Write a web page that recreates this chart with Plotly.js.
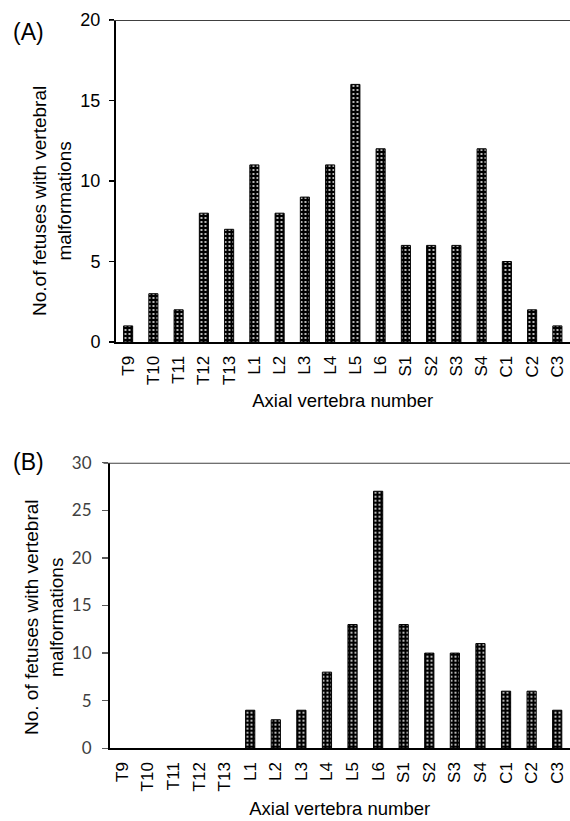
<!DOCTYPE html>
<html>
<head>
<meta charset="utf-8">
<script src="https://cdn.plot.ly/plotly-3.0.1.min.js"></script>
<style>
html,body{margin:0;padding:0;background:#fff;}
#chart{width:570px;height:821px;}
</style>
</head>
<body>
<div id="chart"></div>
<script>
const categories = ["T9","T10","T11","T12","T13","L1","L2","L3","L4","L5","L6","S1","S2","S3","S4","C1","C2","C3"];
const valuesA = [1,3,2,8,7,11,8,9,11,16,12,6,6,6,12,5,2,1];
const valuesB = [0,0,0,0,0,4,3,4,8,13,27,13,10,10,11,6,6,4];
const yTicksA = [0,5,10,15,20];
const yTicksB = [0,5,10,15,20,25,30];

const W = 570, H = 821;
const px2y = p => 1 - p / H;
const px2x = p => p / W;

function barMarker(vals) {
  return {
    color: "#000",
    line: {color: "#000", width: vals.map(v => v > 0 ? 1 : 0)},
    pattern: {shape: ".", fgcolor: "#fff", bgcolor: "#000", size: 4, solidity: 0.18}
  };
}

const traceA = {type: "bar", x: categories, y: valuesA, xaxis: "x", yaxis: "y", marker: barMarker(valuesA), hoverinfo: "none"};
const traceB = {type: "bar", x: categories, y: valuesB, xaxis: "x2", yaxis: "y2", marker: barMarker(valuesB), hoverinfo: "none"};

const arial = "Liberation Sans, Arial, sans-serif";

const layout = {
  width: W, height: H,
  margin: {l: 0, r: 0, t: 0, b: 0},
  paper_bgcolor: "#fff", plot_bgcolor: "#fff",
  showlegend: false,
  bargap: 0.64,
  font: {family: arial, color: "#000"},
  xaxis: {
    domain: [px2x(115.5), 1], anchor: "y",
    type: "category", tickangle: -90,
    showline: true, linecolor: "#000", linewidth: 2,
    ticks: "", showgrid: false, zeroline: false,
    ticklabelstandoff: 5,
    tickfont: {family: arial, size: 17, color: "#000"},
    title: {text: "Axial vertebra number", font: {family: arial, size: 18.5, color: "#000"}, standoff: 10},
    automargin: false
  },
  yaxis: {
    domain: [px2y(342), px2y(20)], anchor: "x",
    range: [0, 20], tickvals: yTicksA, ticktext: yTicksA.map(String),
    showline: true, linecolor: "#000", linewidth: 1.5,
    ticks: "outside", ticklen: 5, tickwidth: 1.5, tickcolor: "#000",
    showgrid: false, zeroline: false,
    ticklabelstandoff: 5,
    tickfont: {family: arial, size: 18, color: "#000"},
    automargin: false
  },
  xaxis2: {
    domain: [px2x(109.5), 1], anchor: "y2",
    type: "category", tickangle: -90,
    showline: true, linecolor: "#000", linewidth: 2,
    ticks: "", showgrid: false, zeroline: false,
    ticklabelstandoff: 5,
    tickfont: {family: arial, size: 17, color: "#000"},
    title: {text: "Axial vertebra number", font: {family: arial, size: 18.5, color: "#000"}, standoff: 12},
    automargin: false
  },
  yaxis2: {
    domain: [px2y(748.3), px2y(462.7)], anchor: "x2",
    range: [0, 30], tickvals: yTicksB, ticktext: yTicksB.map(String),
    showline: true, linecolor: "#000", linewidth: 1.5,
    ticks: "outside", ticklen: 6, tickwidth: 1.2, tickcolor: "#595959",
    showgrid: false, zeroline: false,
    ticklabelstandoff: 7,
    tickfont: {family: "Lato, Open Sans, sans-serif", size: 17, color: "#404040"},
    automargin: false
  },
  shapes: [
    {type: "line", xref: "paper", yref: "y", x0: px2x(110), x1: 1, y0: 20, y1: 20, line: {color: "#404040", width: 2}},
    {type: "line", xref: "paper", yref: "y2", x0: px2x(103.5), x1: 1, y0: 30, y1: 30, line: {color: "#404040", width: 2}}
  ],
  annotations: [
    {text: "(A)", xref: "paper", yref: "paper", x: px2x(11), y: px2y(32), xanchor: "left", yanchor: "middle", showarrow: false, font: {family: arial, size: 23, color: "#000"}},
    {text: "(B)", xref: "paper", yref: "paper", x: px2x(11), y: px2y(462), xanchor: "left", yanchor: "middle", showarrow: false, font: {family: arial, size: 23, color: "#000"}},
    {text: "No.of fetuses with vertebral<br>malformations", xref: "paper", yref: "paper", x: px2x(52), y: px2y(201), xanchor: "center", yanchor: "middle", textangle: -90, showarrow: false, font: {family: arial, size: 19, color: "#000"}},
    {text: "No. of fetuses with vertebral<br>malformations", xref: "paper", yref: "paper", x: px2x(44), y: px2y(617), xanchor: "center", yanchor: "middle", textangle: -90, showarrow: false, font: {family: arial, size: 19, color: "#000"}}
  ]
};

Plotly.newPlot("chart", [traceA, traceB], layout, {displayModeBar: false, staticPlot: true});
</script>
</body>
</html>
